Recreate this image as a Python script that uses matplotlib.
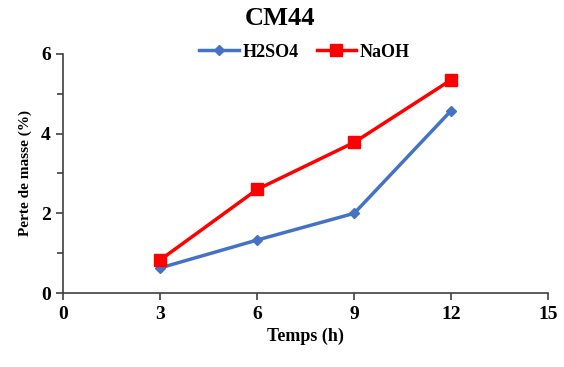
import matplotlib.pyplot as plt
from matplotlib.ticker import MultipleLocator

plt.rcParams['font.family'] = 'Liberation Serif'
plt.rcParams['font.weight'] = 'bold'

temps = [3, 6, 9, 12]
h2so4 = [0.63, 1.33, 2.0, 4.58]
naoh = [0.83, 2.6, 3.78, 5.35]

fig = plt.figure(figsize=(5.64, 3.67), dpi=100)
ax = fig.add_axes([0.112, 0.2016, 0.86, 0.6514])

ax.plot(temps, h2so4, '-D', color='#4472C4', lw=2.5, ms=5, label='H2SO4')
ax.plot(temps, naoh, '-s', color='#FF0000', lw=2.5, ms=8, label='NaOH')

ax.set_xlim(0, 15)
ax.set_ylim(0, 6)
ax.set_xticks([0, 3, 6, 9, 12, 15])
ax.set_yticks([0, 2, 4, 6])
ax.yaxis.set_minor_locator(MultipleLocator(1))
for s in ['top', 'right']:
    ax.spines[s].set_visible(False)
for s in ['left', 'bottom']:
    ax.spines[s].set_color('#404040')
    ax.spines[s].set_linewidth(1.2)
ax.tick_params(which='both', direction='out', color='#404040', width=1.2,
               labelsize=14, pad=4)
ax.tick_params(which='major', length=5)
ax.tick_params(which='minor', length=4)

ax.set_xlabel('Temps (h)', fontsize=13, fontweight='bold', labelpad=4)
ax.set_ylabel('Perte de masse (%)', fontsize=11, fontweight='bold', labelpad=6)
fig.text(0.497, 0.95, 'CM44', ha='center', va='center', fontsize=19, fontweight='bold')

leg = fig.legend(loc='center', bbox_to_anchor=(0.54, 0.858), ncol=2, frameon=False,
                 fontsize=13, handlelength=2.2, columnspacing=1.0, handletextpad=0.2,
                 prop={'weight': 'bold', 'size': 13})

fig.savefig('out.png', dpi=100)
